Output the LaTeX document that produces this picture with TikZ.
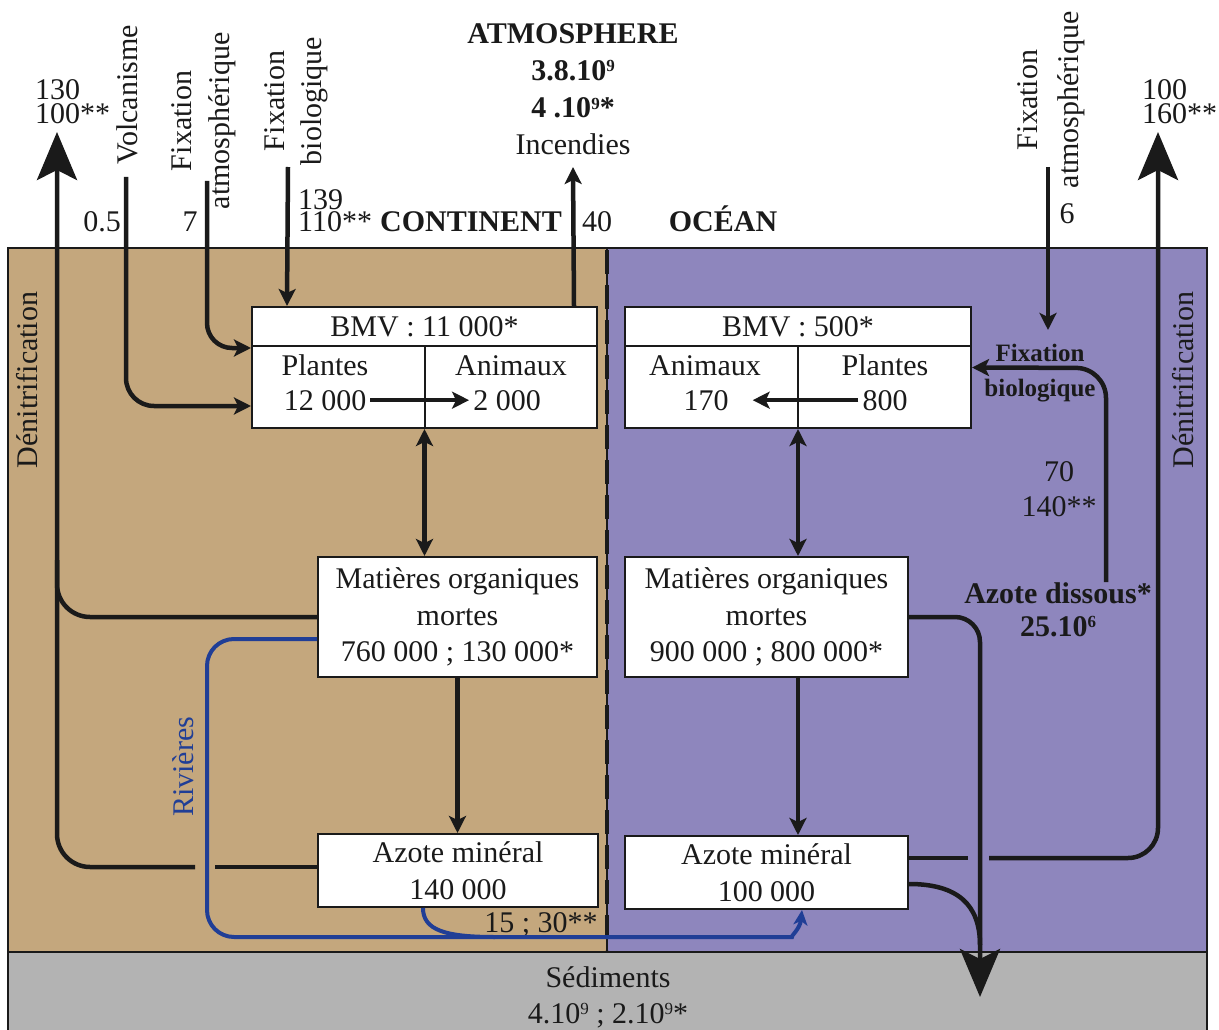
\documentclass[tikz,border=0pt]{standalone}
\usepackage{fontspec}
\setmainfont{Liberation Serif}
\usetikzlibrary{arrows.meta}
\definecolor{conti}{RGB}{196,167,125}
\definecolor{ocea}{RGB}{142,134,189}
\definecolor{sedi}{RGB}{179,179,179}
\definecolor{riv}{RGB}{32,62,150}
\definecolor{ink}{RGB}{26,26,26}
\newcommand\mysup[1]{\raisebox{8.5pt}{\fontsize{17}{17}\selectfont #1}}
\begin{document}
\begin{tikzpicture}[x=1pt,y=-1pt,
  every node/.style={inner sep=0pt, font=\fontsize{30}{36}\selectfont, text=ink},
  flow/.style={draw=ink, line width=4.5pt},
  headsmall/.style={-{Stealth[length=17pt,width=17pt,inset=4pt]}},
  headboth/.style={{Stealth[length=17pt,width=17pt,inset=4pt]}-{Stealth[length=17pt,width=17pt,inset=4pt]}},
  headbig/.style={-{Stealth[length=48pt,width=40pt,inset=10pt]}},
  river/.style={draw=riv, line width=4pt},
  nbox/.style={draw=ink, line width=2pt, fill=white, align=center},
  region/.style={draw=ink, line width=1.5pt},
  bold/.style={font=\bfseries\fontsize{30}{36}\selectfont},
]
% canvas and regions
\useasboundingbox (0,0) rectangle (1219,1030);
\fill[white] (0,0) rectangle (1219,1030);
\filldraw[region, fill=conti] (8,248) rectangle (607,952);
\filldraw[region, fill=ocea] (607,248) rectangle (1207,952);
\filldraw[region, fill=sedi] (8,952) rectangle (1207,1034);
\draw[ink, line width=4.5pt, dash pattern=on 24pt off 11pt] (607,250) -- (607,950);

% ---------- boxes ----------
% BMV continent
\node[nbox, minimum width=345pt, minimum height=121pt] (bmvc) at (424.5,367.5) {};
\draw[ink, line width=2pt] ([yshift=-40pt]bmvc.north west) -- ([yshift=-40pt]bmvc.north east);
\draw[ink, line width=2pt] ([yshift=-40pt]bmvc.north) -- (bmvc.south);
\node[anchor=base] (bmvct) at (424.5,336) {BMV : 11 000*};
\node[anchor=base] (plc) at (325,375) {Plantes};
\node[anchor=base] (anc) at (511,375) {Animaux};
\node[anchor=base] (plcn) at (325,410) {12 000};
\node[anchor=base] (ancn) at (507,410) {2 000};
\draw[flow, headsmall] ([xshift=4pt]plcn.east) -- ([xshift=-4pt]ancn.west);

% BMV ocean
\node[nbox, minimum width=346pt, minimum height=121pt] (bmvo) at (798,367.5) {};
\draw[ink, line width=2pt] ([yshift=-40pt]bmvo.north west) -- ([yshift=-40pt]bmvo.north east);
\draw[ink, line width=2pt] ([yshift=-40pt]bmvo.north) -- (bmvo.south);
\node[anchor=base] (bmvot) at (798,336) {BMV : 500*};
\node[anchor=base] (ano) at (705,375) {Animaux};
\node[anchor=base] (plo) at (885,375) {Plantes};
\node[anchor=base] (anon) at (706,410) {170};
\node[anchor=base] (plon) at (885,410) {800};
\draw[flow, headsmall] ([xshift=-4pt]plon.west) -- ([xshift=24pt]anon.east);

% MOM
\node[nbox, minimum width=279pt, minimum height=120pt, font=\fontsize{30}{36.5}\selectfont] (mc) at (457.5,617)
  {Matières organiques\\mortes\\760 000 ; 130 000*};
\node[nbox, minimum width=283pt, minimum height=120pt, font=\fontsize{30}{36.5}\selectfont] (mo) at (766.5,617)
  {Matières organiques\\mortes\\900 000 ; 800 000*};

% Azote mineral
\node[nbox, minimum width=280pt, minimum height=73pt, font=\fontsize{30}{37}\selectfont] (ac) at (458,870.5)
  {Azote minéral\\140 000};
\node[nbox, minimum width=283pt, minimum height=73pt, font=\fontsize{30}{37}\selectfont] (ao) at (766.5,872.5)
  {Azote minéral\\100 000};

% vertical links between boxes
\draw[flow, headboth] (bmvc.south) -- (bmvc.south |- mc.north);
\draw[flow, headsmall] (mc.south) -- (mc.south |- ac.north);
\draw[flow, headboth] (bmvo.south) -- (bmvo.south |- mo.north);
\draw[flow, headsmall] (bmvo.south |- mo.south) -- (bmvo.south |- ao.north);

% ---------- top labels ----------
\node[align=center, anchor=north, font=\fontsize{30}{37.3}\selectfont] (atm) at (573,23)
  {\textbf{ATMOSPHERE}\\\textbf{3.8.10\mysup{9}}\\\textbf{4 .10\mysup{9}*}\\Incendies};
\node[rotate=90] (volc) at (127,95) {Volcanisme};
\node[rotate=90, align=center, font=\fontsize{30}{38}\selectfont] (fac) at (204,121) {Fixation\\atmosphérique};
\node[rotate=90, align=center, font=\fontsize{30}{37}\selectfont] (fbc) at (296.5,101) {Fixation\\biologique};
\node[rotate=90, align=center, font=\fontsize{30}{41}\selectfont] (fao) at (1051,100) {Fixation\\atmosphérique};
\node[align=left, anchor=west, font=\fontsize{30}{24}\selectfont] (n130) at (35,102) {130\\100**};
\node[align=left, anchor=west, font=\fontsize{30}{24}\selectfont] (n100) at (1142,102) {100\\160**};
\node[anchor=base] (n05) at (102,232) {0.5};
\node[anchor=base] (n7) at (190,232) {7};
\node[align=left, anchor=north west, font=\fontsize{30}{22.5}\selectfont] (n139) at (298,189) {139\\110**};
\node[anchor=base east, bold] (cont) at (562,232) {CONTINENT};
\node[anchor=base] (n40) at (597,232) {40};
\node[anchor=base, bold] (ocn) at (723,232) {OCÉAN};
\node[anchor=base] (n6) at (1067,223) {6};

% ---------- side labels ----------
\node[rotate=90] (dnLt) at (27,380) {Dénitrification};
\node[rotate=90] (dnRt) at (1183,380) {Dénitrification};
\node[align=center, anchor=north, font=\bfseries\fontsize{25}{35}\selectfont] (fbo) at (1040,344) {Fixation\\biologique};
\node[align=center, anchor=north, font=\fontsize{30}{35}\selectfont] (n70) at (1059,461) {70\\140**};
\node[align=center, anchor=north, font=\bfseries\fontsize{30}{33}\selectfont] (adis) at (1058,582) {Azote dissous*\\25.10\mysup{6}};
\node[rotate=90, text=riv] (rivt) at (183,767) {Rivières};
\node[anchor=base] (n15) at (541,932) {15 ; 30**};
\node[align=center, anchor=north, font=\fontsize{30}{36}\selectfont] (sed) at (608,966)
  {Sédiments\\4.10\mysup{9} ; 2.10\mysup{9}*};

% ---------- inputs from the atmosphere ----------
\coordinate (volcS) at (126,177);
\draw[flow, headsmall, rounded corners=28pt] (volcS) -- (126,406) -- ([yshift=-38.5pt]bmvc.west);
\coordinate (facS) at (207,181);
\draw[flow, headsmall, rounded corners=25pt] (facS) -- (207,348) -- ([yshift=19.5pt]bmvc.west);
\coordinate (fbcS) at (288,167);
\draw[flow, headsmall] (fbcS) -- ([xshift=36pt]bmvc.north west);
\coordinate (incT) at (573,167);
\draw[flow, headsmall] ([xshift=-24pt]bmvc.north east) -- (incT);
\coordinate (faoS) at (1048,167);
\coordinate (faoE) at (1048,330);
\draw[flow, headsmall] (faoS) -- (faoE);
\draw[flow, headsmall, rounded corners=30pt] ([xshift=48pt]adis.north) -- (1106,368) -- (bmvo.east);

% ---------- denitrification ----------
\coordinate (dnL) at (57,132);
\coordinate (gapLa) at (215,867);
\coordinate (gapLb) at (195,867);
\draw[flow] ([yshift=3.5pt]ac.west) -- (gapLa);
\draw[flow, headbig, rounded corners=33pt] (gapLb) -- (57,867) -- (dnL);
\draw[flow, rounded corners=33pt] (mc.west) -- (57,617) -- (57,560);

\coordinate (dnR) at (1158,132);
\coordinate (gapRa) at (968,858);
\coordinate (gapRb) at (989,858);
\draw[flow] ([yshift=14.5pt]ao.east) -- (gapRa);
\draw[flow, headbig, rounded corners=30pt] (gapRb) -- (1158,858) -- (dnR);

% ---------- sedimentation ----------
\coordinate (sedT) at (980,997);
\draw[flow, headbig, rounded corners=25pt] (mo.east) -- (980,617) -- (sedT);
\draw[flow] ([yshift=-11.5pt]ao.east) .. controls (958,884) and (980,905) .. (980,945);

% ---------- rivers ----------
\draw[river, -{Stealth[length=15pt,width=14pt,inset=4pt]}, rounded corners=27pt]
  ([yshift=-22pt]mc.west) -- (207,639) -- (207,937) -- (765,937)
  .. controls (790,937) and (800,929) .. ([xshift=35.5pt]ao.south);
\draw[river] ([xshift=-35pt]ac.south) .. controls (423,930) and (445,937) .. (495,937);
\end{tikzpicture}
\end{document}
